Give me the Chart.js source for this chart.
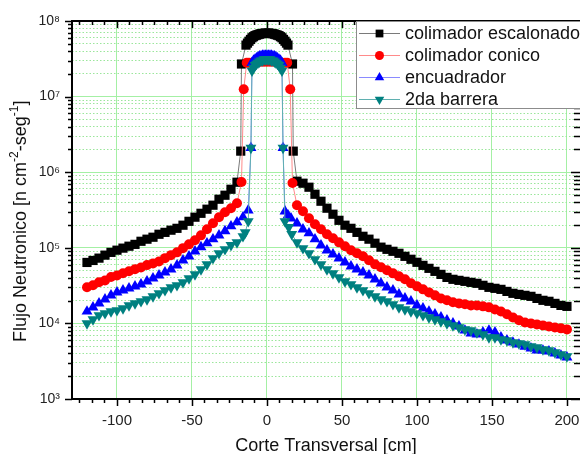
<!DOCTYPE html>
<html>
<head>
<meta charset="utf-8">
<script src="https://cdn.jsdelivr.net/npm/chart.js@4.4.0/dist/chart.umd.min.js"></script>
<style>
  html, body { margin: 0; padding: 0; background: #fff; }
  #wrap { width: 580px; height: 454px; }
</style>
</head>
<body>
<div id="wrap"><canvas id="flux" width="580" height="454"></canvas></div>
<script>
// ============================================================================
// DATA
// ============================================================================

const seriesNames = ['colimador escalonado', 'colimador conico', 'encuadrador', '2da barrera'];

// shared x positions of the two tails (cm)
const tailLeftX = [-120, -116, -112, -108, -104, -100, -96, -92, -88, -84, -80, -76, -72,
    -68, -64, -60, -56, -52, -48, -44, -40, -36, -32, -28, -24, -20];
const tailRightX = [20, 24, 28, 32, 36, 40, 44, 48, 52, 56, 60, 64, 68, 72, 76, 80, 84, 88,
    92, 96, 100, 104, 108, 112, 116, 120, 124, 128, 132, 136, 140, 144, 148, 152, 156, 160,
    164, 168, 172, 176, 180, 184, 188, 192, 196, 200];

// colimador escalonado
const escLeft = [6.4e4, 6.8e4, 7.3e4, 8.0e4, 8.7e4, 9.3e4, 9.9e4, 1.05e5, 1.11e5, 1.22e5, 1.30e5,
    1.38e5, 1.51e5, 1.60e5, 1.71e5, 1.81e5, 1.99e5, 2.24e5, 2.54e5, 2.86e5, 3.24e5, 3.66e5,
    4.39e5, 4.96e5, 5.95e5, 7.37e5];
const escCenterX = [-17.5, -17, -14, -13, -12, -11, -10, -9, -8, -7, -6, -5, -4, -3, -2, -1, 0,
    1, 2, 3, 4, 5, 6, 7, 8, 9, 10, 11, 12, 13, 14, 17, 17.5];
const escCenter = [1.9e6, 2.7e7, 4.8e7, 5.1e7, 5.4e7, 5.7e7, 6.0e7, 6.2e7, 6.4e7, 6.5e7, 6.6e7,
    6.7e7, 6.8e7, 6.8e7, 6.9e7, 6.9e7, 6.9e7, 6.9e7, 6.9e7, 6.8e7, 6.8e7, 6.7e7, 6.6e7, 6.5e7,
    6.4e7, 6.2e7, 6.0e7, 5.7e7, 5.4e7, 5.1e7, 4.8e7, 2.7e7, 1.9e6];
const escRight = [7.60e5, 7.15e5, 6.33e5, 5.11e5, 4.13e5, 3.34e5, 2.78e5, 2.31e5, 1.99e5, 1.81e5,
    1.60e5, 1.42e5, 1.30e5, 1.15e5, 1.02e5, 9.55e4, 8.99e4, 8.46e4, 7.71e4, 7.05e4, 6.43e4,
    5.86e4, 5.35e4, 4.88e4, 4.45e4, 4.06e4, 3.83e4, 3.71e4, 3.60e4, 3.49e4, 3.39e4, 3.19e4,
    3.00e4, 2.91e4, 2.82e4, 2.65e4, 2.50e4, 2.42e4, 2.35e4, 2.28e4, 2.14e4, 2.02e4, 1.96e4,
    1.84e4, 1.73e4, 1.68e4];

// colimador conico
const conLeft = [3.0e4, 3.2e4, 3.5e4, 3.7e4, 4.1e4, 4.3e4, 4.6e4, 4.9e4, 5.2e4, 5.5e4, 5.9e4,
    6.2e4, 6.6e4, 7.3e4, 8.0e4, 8.7e4, 9.9e4, 1.11e5, 1.26e5, 1.46e5, 1.76e5, 2.11e5, 2.54e5,
    2.95e5, 3.34e5, 3.88e5];
const conCenterX = [-17, -15.5, -13.5, -12, -10, -8, -6, -4, -2, 0, 2, 4, 6, 8, 10, 12, 13.5, 15.5, 17];
const conCenter = [7.4e5, 1.25e7, 2.8e7, 2.8e7, 2.8e7, 2.9e7, 2.9e7, 2.9e7, 2.9e7, 2.9e7, 2.9e7,
    2.9e7, 2.9e7, 2.9e7, 2.8e7, 2.8e7, 2.8e7, 1.25e7, 7.2e5];
const conRight = [3.66e5, 3.04e5, 2.46e5, 2.05e5, 1.76e5, 1.51e5, 1.34e5, 1.18e5, 1.05e5, 9.27e4,
    8.46e4, 7.71e4, 6.83e4, 6.04e4, 5.52e4, 5.04e4, 4.59e4, 4.19e4, 3.83e4, 3.4e4, 3.09e4,
    2.82e4, 2.57e4, 2.35e4, 2.14e4, 2.02e4, 1.90e4, 1.84e4, 1.79e4, 1.73e4, 1.73e4, 1.68e4,
    1.63e4, 1.53e4, 1.44e4, 1.32e4, 1.20e4, 1.10e4, 1.03e4, 1.00e4, 9.70e3, 9.41e3, 9.12e3,
    8.85e3, 8.6e3, 8.33e3];

// encuadrador
const encLeft = [1.44e4, 1.63e4, 1.84e4, 2.08e4, 2.35e4, 2.57e4, 2.74e4, 2.91e4, 3.09e4, 3.29e4,
    3.60e4, 3.94e4, 4.32e4, 4.73e4, 5.19e4, 5.86e4, 6.83e4, 7.71e4, 8.99e4, 1.02e5, 1.15e5,
    1.30e5, 1.46e5, 1.66e5, 1.93e5, 2.18e5];
const encCenterX = [-16, -12.5, -10.7, -10, -9, -8, -7, -6, -5, -4, -3, -2, -1, 0, 1, 2, 3, 4, 5,
    6, 7, 8, 9, 10, 10.7, 12, 14, 16];
const encCenter = [2.54e5, 3.14e5, 2.1e6, 2.8e7, 3.0e7, 3.1e7, 3.2e7, 3.3e7, 3.4e7, 3.4e7, 3.5e7,
    3.5e7, 3.5e7, 3.5e7, 3.5e7, 3.5e7, 3.5e7, 3.4e7, 3.4e7, 3.3e7, 3.2e7, 3.1e7, 3.0e7, 2.8e7,
    2.1e6, 3.04e5, 2.69e5, 2.46e5];
const encRight = [2.11e5, 1.76e5, 1.56e5, 1.30e5, 1.08e5, 9.27e4, 8.20e4, 7.26e4, 6.43e4, 5.69e4,
    5.19e4, 4.73e4, 4.32e4, 3.83e4, 3.39e4, 3.00e4, 2.74e4, 2.42e4, 2.14e4, 1.96e4, 1.73e4,
    1.58e4, 1.44e4, 1.32e4, 1.20e4, 1.10e4, 1.00e4, 9.12e3, 8.07e3, 7.37e3, 7.15e3, 7.60e3,
    8.07e3, 7.60e3, 6.53e3, 5.96e3, 5.60e3, 5.27e3, 4.95e3, 4.67e3, 4.39e3, 4.39e3, 4.26e3,
    4.01e3, 3.77e3, 3.55e3];

// 2da barrera
const barLeft = [1.00e4, 1.13e4, 1.28e4, 1.36e4, 1.44e4, 1.49e4, 1.58e4, 1.73e4, 1.84e4, 1.96e4,
    2.08e4, 2.28e4, 2.50e4, 2.74e4, 3.00e4, 3.19e4, 3.49e4, 3.94e4, 4.45e4, 5.19e4, 6.04e4,
    7.26e4, 8.46e4, 9.55e4, 1.08e5, 1.18e5];
const barCenterX = [-16, -14.5, -12.5, -10.7, -10, -9, -8, -7, -6, -5, -4, -3, -2, -1, 0, 1, 2,
    3, 4, 5, 6, 7, 8, 9, 10, 10.7, 12, 14.5, 16.5];
const barCenter = [1.42e5, 1.60e5, 2.24e5, 2.1e6, 2.2e7, 2.4e7, 2.6e7, 2.7e7, 2.8e7, 2.9e7,
    3.0e7, 3.0e7, 3.1e7, 3.1e7, 3.1e7, 3.1e7, 3.1e7, 3.0e7, 3.0e7, 2.9e7, 2.8e7, 2.7e7, 2.6e7,
    2.4e7, 2.2e7, 2.1e6, 2.24e5, 1.87e5, 1.51e5];
const barRight = [1.18e5, 9.85e4, 8.46e4, 7.05e4, 6.04e4, 5.19e4, 4.59e4, 4.06e4, 3.60e4, 3.29e4,
    3.00e4, 2.74e4, 2.50e4, 2.28e4, 2.08e4, 1.96e4, 1.79e4, 1.63e4, 1.53e4, 1.44e4, 1.36e4,
    1.28e4, 1.20e4, 1.13e4, 1.06e4, 1.00e4, 9.41e3, 8.85e3, 8.33e3, 8.07e3, 7.60e3, 7.15e3,
    6.53e3, 6.53e3, 6.14e3, 5.96e3, 5.60e3, 5.43e3, 5.27e3, 4.95e3, 4.81e3, 4.53e3, 4.39e3,
    4.13e3, 3.88e3, 3.66e3];

// axis ticks
const xMajorTicks = [-100, -50, 0, 50, 100, 150, 200];
const xMinorPerMajor = 5;
const yDecades = [1e3, 1e4, 1e5, 1e6, 1e7, 1e8];

// ============================================================================
// HELPERS
// ============================================================================

const FONT = '"Liberation Sans", Arial, Helvetica, sans-serif';
const SUP = { '0': '⁰', '1': '¹', '2': '²', '3': '³', '4': '⁴', '5': '⁵', '6': '⁶', '7': '⁷', '8': '⁸', '9': '⁹' };

function toPoints(xs, ys) {
    return xs.map((x, i) => ({ x: x, y: ys[i] }));
}

function buildSeries(left, cx, cy, right) {
    return toPoints(tailLeftX, left).concat(toPoints(cx, cy), toPoints(tailRightX, right));
}

function isDecade(v) {
    const e = Math.log10(v);
    return Math.abs(e - Math.round(e)) < 1e-6;
}

// minor x ticks: 5 between majors, plus a few before the first major
const xStep = 50 / (xMinorPerMajor + 1);
const xTickValues = [];
for (let v = xMajorTicks[0] - 3 * xStep; v <= xMajorTicks[xMajorTicks.length - 1] + 1e-6; v += xStep) {
    xTickValues.push(Math.round(v * 1000) / 1000);
}
const isXMajor = v => xMajorTicks.some(m => Math.abs(m - v) < 1e-3);

// 1..9 x 10^k for the log axis
const yTickValues = [];
yDecades.forEach((d, i) => {
    const n = i === yDecades.length - 1 ? 1 : 9;
    for (let m = 1; m <= n; m++) yTickValues.push(m * d);
});

// ============================================================================
// DATASETS
// ============================================================================

// radius = plot marker, legendRadius = marker in the legend box
const styles = [
    { color: '#000000', line: '#7a7a7a', pointStyle: 'rect', radius: 6.5, legendRadius: 5.5, rotation: 0 },
    { color: '#ff0000', line: '#ff8a8a', pointStyle: 'circle', radius: 5, legendRadius: 4.5, rotation: 0 },
    { color: '#0000ff', line: '#8a8aff', pointStyle: 'triangle', radius: 6.3, legendRadius: 5.5, rotation: 0 },
    { color: '#008080', line: '#5fb0b0', pointStyle: 'triangle', radius: 6.3, legendRadius: 5.5, rotation: 180 }
];

const seriesData = [
    buildSeries(escLeft, escCenterX, escCenter, escRight),
    buildSeries(conLeft, conCenterX, conCenter, conRight),
    buildSeries(encLeft, encCenterX, encCenter, encRight),
    buildSeries(barLeft, barCenterX, barCenter, barRight)
];

const datasets = seriesData.map((data, i) => ({
    label: seriesNames[i],
    data: data,
    showLine: true,
    borderColor: styles[i].line,
    borderWidth: 1,
    tension: 0,
    pointStyle: styles[i].pointStyle,
    pointRotation: styles[i].rotation,
    pointRadius: styles[i].radius,
    pointBackgroundColor: styles[i].color,
    pointBorderColor: styles[i].color,
    pointBorderWidth: 0,
    order: 4 - i     // later series drawn on top
}));

// ============================================================================
// PLUGINS
// ============================================================================

// black frame with Origin-style ticks (right axis line sits just off the canvas)
const framePlugin = {
    id: 'frame',
    afterDatasetsDraw(chart) {
        const { ctx, chartArea: a, scales } = chart;
        const x = scales.x, y = scales.y;
        ctx.save();
        ctx.strokeStyle = '#000';
        ctx.lineWidth = 1.5;
        ctx.beginPath();
        xTickValues.forEach(v => {
            const px = Math.round(x.getPixelForValue(v)) + 0.5;
            const len = isXMajor(v) ? 7 : 4;
            ctx.moveTo(px, a.bottom); ctx.lineTo(px, a.bottom + len);
            ctx.moveTo(px, a.top); ctx.lineTo(px, a.top + len);
        });
        yTickValues.forEach(v => {
            const py = Math.round(y.getPixelForValue(v)) + 0.5;
            const len = isDecade(v) ? 7 : 4;
            ctx.moveTo(a.left - len, py); ctx.lineTo(a.left, py);
            ctx.moveTo(a.right - len - 2, py); ctx.lineTo(a.right, py);
        });
        ctx.stroke();
        ctx.lineWidth = 2;
        ctx.beginPath();
        ctx.moveTo(a.right + 2, a.top); ctx.lineTo(a.left, a.top);
        ctx.lineTo(a.left, a.bottom); ctx.lineTo(a.right + 2, a.bottom);
        ctx.stroke();
        ctx.restore();
    }
};

// legend box in the upper right corner
const legendPlugin = {
    id: 'boxLegend',
    afterDraw(chart) {
        const ctx = chart.ctx;
        const box = { left: 356, top: 21, right: 584, bottom: 108 };
        const rows = [33, 55, 77, 99];
        ctx.save();
        ctx.fillStyle = '#fff';
        ctx.fillRect(box.left, box.top, box.right - box.left, box.bottom - box.top);
        ctx.strokeStyle = '#8c8c8c';
        ctx.lineWidth = 1;
        ctx.strokeRect(box.left + 0.5, box.top + 0.5, box.right - box.left, box.bottom - box.top);
        seriesNames.forEach((name, i) => {
            const st = styles[i];
            const ry = rows[i];
            ctx.strokeStyle = st.line;
            ctx.lineWidth = 1;
            ctx.beginPath();
            ctx.moveTo(359, ry + 0.5);
            ctx.lineTo(400, ry + 0.5);
            ctx.stroke();
            ctx.fillStyle = st.color;
            Chart.helpers.drawPoint(ctx, {
                pointStyle: st.pointStyle, rotation: st.rotation, radius: st.legendRadius, borderWidth: 0
            }, 379.5, ry + 0.5);
            ctx.fillStyle = '#111';
            ctx.font = '18px ' + FONT;
            ctx.textAlign = 'left';
            ctx.textBaseline = 'middle';
            ctx.fillText(name, 405, ry + 1);
        });
        ctx.restore();
    }
};

// rotated y title with real superscripts
const yTitlePlugin = {
    id: 'yTitle',
    afterDraw(chart) {
        const ctx = chart.ctx;
        const parts = [
            { t: 'Flujo Neutronico [n cm', sup: false },
            { t: '-2', sup: true },
            { t: '-seg', sup: false },
            { t: '-1', sup: true },
            { t: ']', sup: false }
        ];
        ctx.save();
        ctx.translate(26, 342);
        ctx.rotate(-Math.PI / 2);
        ctx.fillStyle = '#111';
        ctx.textBaseline = 'alphabetic';
        ctx.textAlign = 'left';
        let cx = 0;
        parts.forEach(p => {
            ctx.font = (p.sup ? '12px ' : '18px ') + FONT;
            ctx.fillText(p.t, cx, p.sup ? -8 : 0);
            cx += ctx.measureText(p.t).width;
        });
        ctx.restore();
    }
};

// ============================================================================
// CHART
// ============================================================================

new Chart(document.getElementById('flux').getContext('2d'), {
    type: 'scatter',
    data: { datasets: datasets },
    options: {
        responsive: false,
        devicePixelRatio: 1,
        animation: false,
        events: [],
        layout: { autoPadding: false, padding: { left: 0, right: 0, top: 21, bottom: 0 } },
        plugins: {
            legend: { display: false },
            tooltip: { enabled: false }
        },
        scales: {
            x: {
                type: 'linear',
                min: -130,
                max: 208.7,
                afterBuildTicks: (scale) => {
                    scale.ticks = xTickValues.map(v => ({ value: v }));
                },
                afterFit: (scale) => {
                    scale.height = 55;
                    scale.paddingLeft = 0;
                    scale.paddingRight = 0;
                },
                ticks: {
                    autoSkip: false,
                    maxRotation: 0,
                    padding: 13,
                    color: '#222',
                    font: { family: FONT, size: 15 },
                    callback: (v) => isXMajor(v) ? String(Math.round(v)) : ''
                },
                grid: {
                    drawTicks: false,
                    lineWidth: 1,
                    color: (c) => (c.tick && isXMajor(c.tick.value)) ? '#a4f0a4' : 'rgba(0,0,0,0)'
                },
                border: { display: false },
                title: {
                    display: true,
                    text: 'Corte Transversal [cm]',
                    color: '#111',
                    font: { family: FONT, size: 18, lineHeight: 1 },
                    padding: { top: 0, bottom: -1 }
                }
            },
            y: {
                type: 'logarithmic',
                min: 1e3,
                max: 1e8,
                afterBuildTicks: (scale) => {
                    scale.ticks = yTickValues.map(v => ({ value: v }));
                },
                afterFit: (scale) => { scale.width = 72; },
                ticks: {
                    autoSkip: false,
                    padding: 12,
                    color: '#222',
                    font: { family: FONT, size: 14 },
                    callback: (v) => {
                        if (!isDecade(v)) return '';
                        return '10' + String(Math.round(Math.log10(v))).split('').map(d => SUP[d]).join('');
                    }
                },
                grid: {
                    drawTicks: false,
                    lineWidth: 1,
                    color: (c) => (c.tick && isDecade(c.tick.value)) ? '#a4f0a4' : '#9be69b'
                },
                border: {
                    display: false,
                    dash: (c) => (c.tick && isDecade(c.tick.value)) ? [] : [1.5, 2]
                }
            }
        }
    },
    plugins: [framePlugin, legendPlugin, yTitlePlugin]
});
</script>
</body>
</html>
